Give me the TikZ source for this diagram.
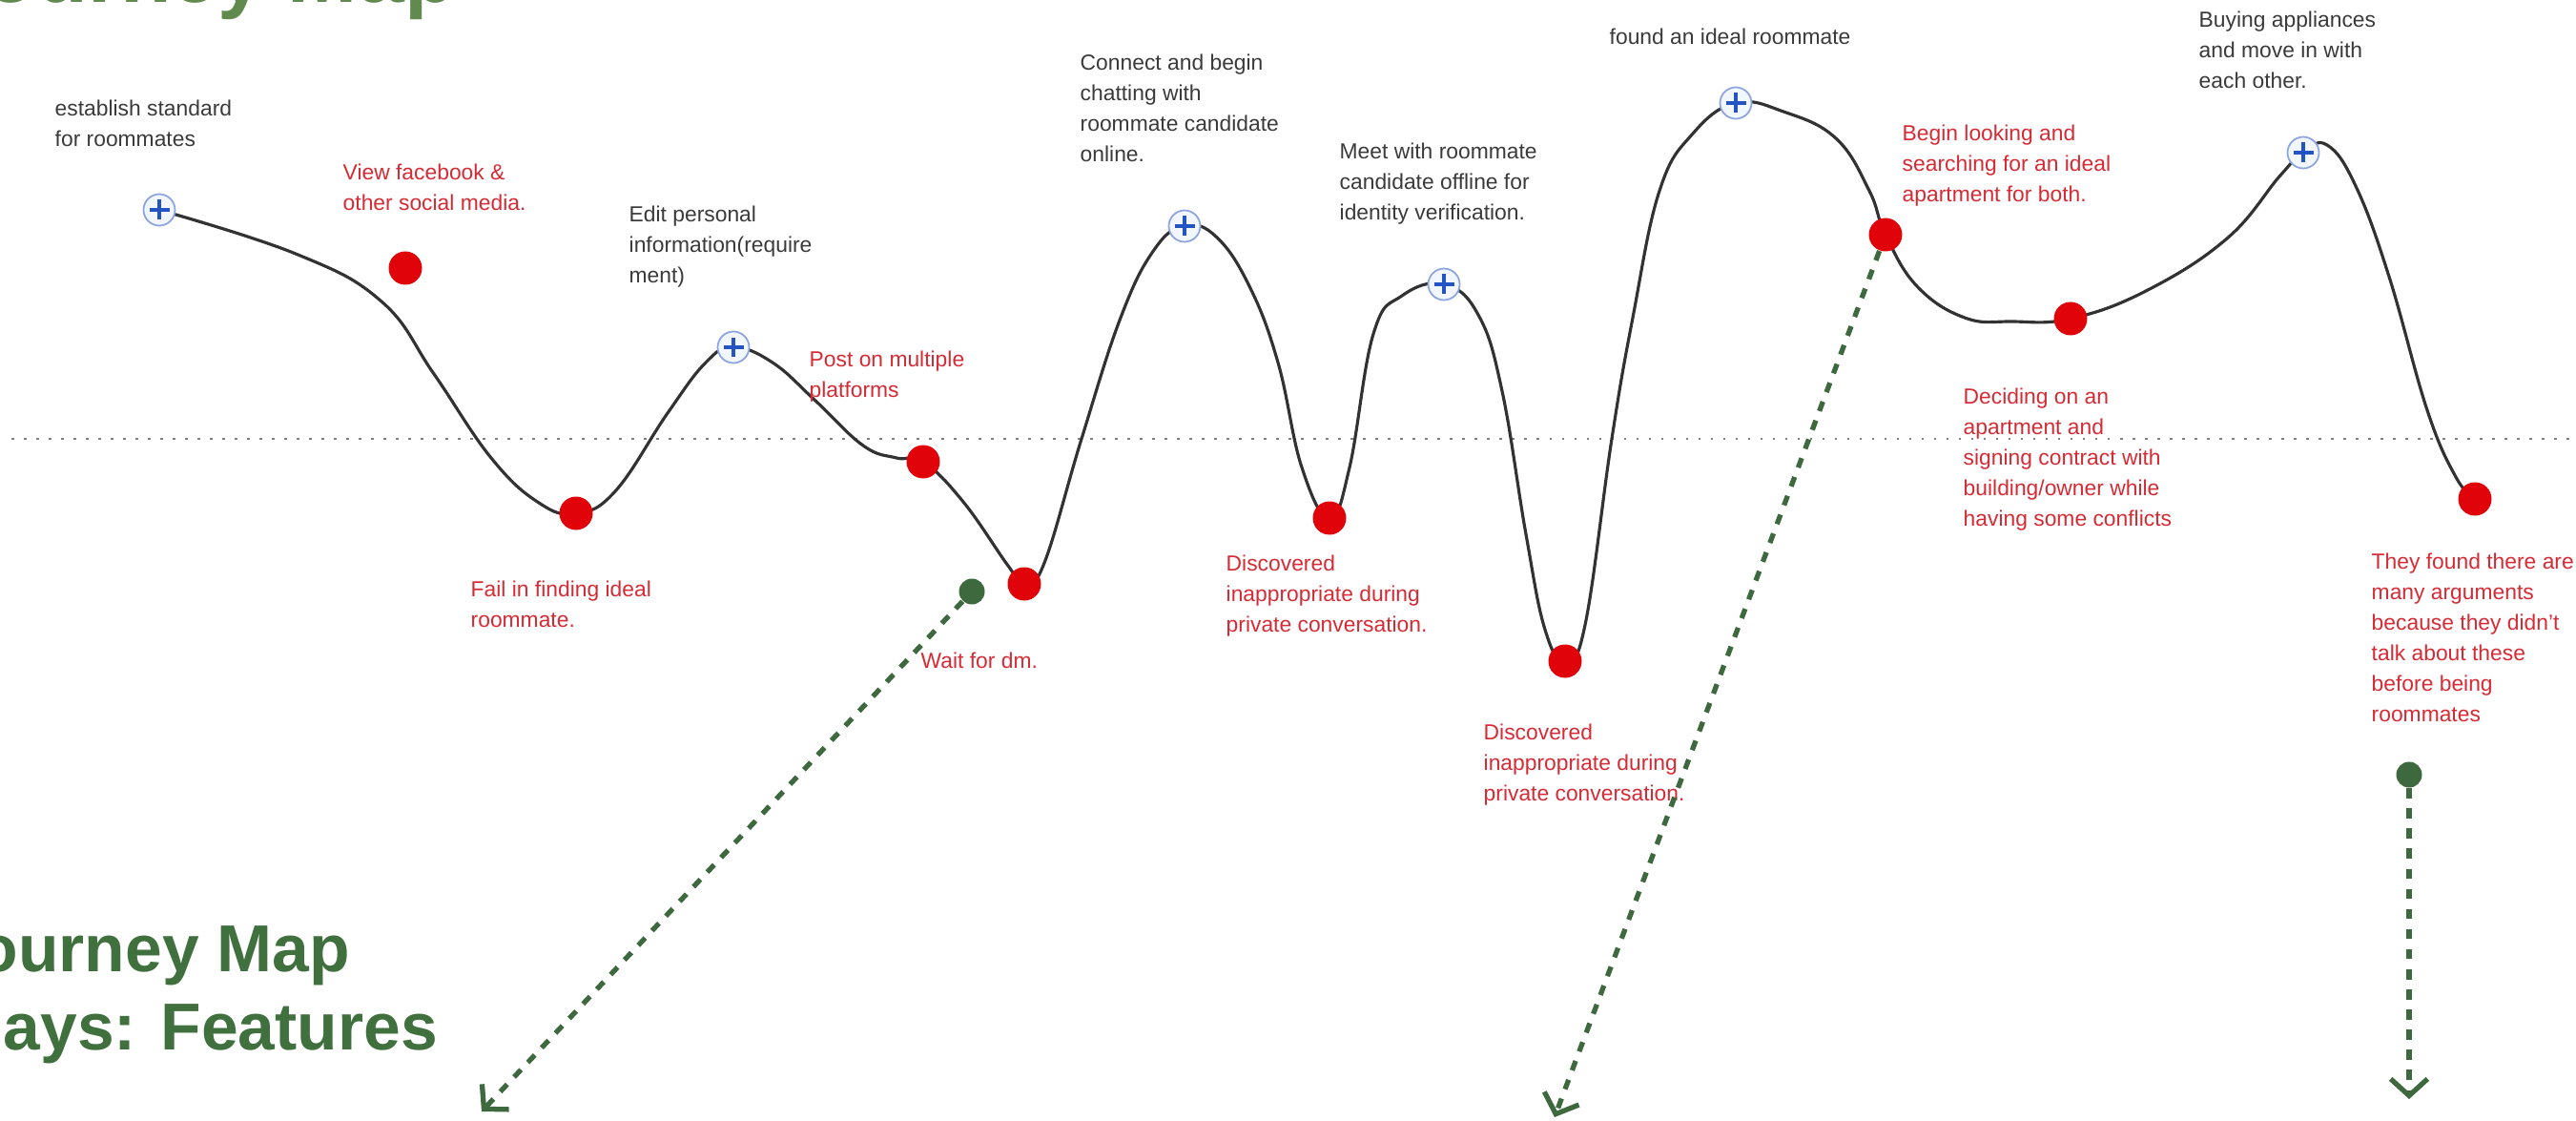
\documentclass[tikz,border=0pt]{standalone}
\usepackage{fontspec}
\setmainfont{Liberation Sans}
\usetikzlibrary{arrows.meta}
\usepackage{xcolor}
\definecolor{dotred}{RGB}{224,4,10}
\definecolor{txtred}{RGB}{214,42,52}
\definecolor{txtgrey}{RGB}{58,58,58}
\definecolor{linegrey}{RGB}{50,50,50}
\definecolor{pathgreen}{RGB}{62,104,62}
\definecolor{titlegreen}{RGB}{64,112,62}
\definecolor{fadedgreen}{RGB}{96,138,78}
\definecolor{plusblue}{RGB}{36,84,196}
\definecolor{ringblue}{RGB}{140,165,225}
\definecolor{ringfill}{RGB}{242,246,255}
\pgfdeclarelayer{bg}
\pgfsetlayers{bg,main}

\begin{document}
\begin{tikzpicture}[x=1cm,y=-1cm,
					upmark/.style={circle, draw=ringblue, fill=ringfill, line width=0.5pt, minimum size=0.33cm, inner sep=0pt,
						path picture={\draw[plusblue, line width=0.9pt]
							([xshift=-0.105cm]path picture bounding box.center) -- ([xshift=0.105cm]path picture bounding box.center)
							([yshift=-0.105cm]path picture bounding box.center) -- ([yshift=0.105cm]path picture bounding box.center);}},
					reddot/.style={circle, fill=dotred, minimum size=0.35cm, inner sep=0pt},
					greendot/.style={circle, fill=pathgreen, minimum size=0.27cm, inner sep=0pt},
					note/.style={anchor=north west, align=left, inner sep=0pt, font=\fontsize{6.5}{9.1}\selectfont, text=txtgrey},
					badnote/.style={note, text=txtred},
					journey/.style={linegrey, line width=0.9pt},
					midline/.style={gray, line width=0.8pt, dash pattern=on 0.8pt off 2.9pt},
					hint/.style={pathgreen, line width=1.5pt, dash pattern=on 3pt off 3pt, -{Straight Barb[length=5pt,width=11pt]}},
					heading/.style={anchor=base west, inner sep=0pt, text=titlegreen, font=\fontsize{19.8}{23}\bfseries\selectfont}]
    \useasboundingbox (0,0) rectangle (27.01,11.75);
    \clip (0,0) rectangle (27.01,11.75);
    % Titles
    \node [heading, text=fadedgreen, font=\fontsize{25}{25}\bfseries\selectfont] (toptitle) at (-0.16,0.03) {ourney Map};
    \node [heading] (titleA) at (-0.24,10.18) {ourney Map};
    \node [heading] (titleB) at (0.03,11.00) {ays: Features};
    % Place nodes
    \node [upmark] (std) at (1.67,2.20) {};
    \node [reddot] (fb) at (4.25,2.81) {};
    \node [reddot] (fail) at (6.04,5.38) {};
    \node [upmark] (edit) at (7.69,3.64) {};
    \node [reddot] (post) at (9.68,4.84) {};
    \node [reddot] (wait) at (10.74,6.12) {};
    \node [greendot] (dm) at (10.19,6.20) {};
    \node [upmark] (chat) at (12.42,2.37) {};
    \node [reddot] (discA) at (13.94,5.43) {};
    \node [upmark] (meet) at (15.14,2.98) {};
    \node [reddot] (discB) at (16.41,6.93) {};
    \node [upmark] (found) at (18.20,1.08) {};
    \node [reddot] (look) at (19.77,2.46) {};
    \node [reddot] (decide) at (21.71,3.34) {};
    \node [upmark] (buy) at (24.15,1.60) {};
    \node [reddot] (argue) at (25.95,5.23) {};
    \node [greendot] (move) at (25.26,8.12) {};
    % Labels
    \node [note] (stdtxt) at (0.57,1.04) {establish standard\\for roommates};
    \node [badnote] (fbtxt) at (3.59,1.71) {View facebook \&\\other social media.};
    \node [note] (edittxt) at (6.59,2.15) {Edit personal\\information(require\\ment)};
    \node [badnote] (posttxt) at (8.48,3.67) {Post on multiple\\platforms};
    \node [badnote] (failtxt) at (4.93,6.08) {Fail in finding ideal\\roommate.};
    \node [badnote] (waittxt) at (9.65,6.83) {Wait for dm.};
    \node [note] (chattxt) at (11.32,0.56) {Connect and begin\\chatting with\\roommate candidate\\online.};
    \node [note] (meettxt) at (14.04,1.49) {Meet with roommate\\candidate offline for\\identity verification.};
    \node [badnote] (disctxtA) at (12.85,5.81) {Discovered\\inappropriate during\\private conversation.};
    \node [badnote] (disctxtB) at (15.55,7.58) {Discovered\\inappropriate during\\private conversation.};
    \node [note] (foundtxt) at (16.87,0.29) {found an ideal roommate};
    \node [badnote] (looktxt) at (19.94,1.30) {Begin looking and\\searching for an ideal\\apartment for both.};
    \node [badnote] (decidetxt) at (20.58,4.06) {Deciding on an\\apartment and\\signing contract with\\building/owner while\\having some conflicts};
    \node [note] (buytxt) at (23.05,0.11) {Buying appliances\\and move in with\\each other.};
    \node [badnote] (arguetxt) at (24.86,5.79) {They found there are\\many arguments\\because they didn't\\talk about these\\before being\\roommates};
    % Draw the journey
    \begin{pgfonlayer}{bg}
    \draw [midline] (0.12,4.60) -- (27.01,4.60);
    \draw [journey] plot [smooth, tension=0.7] coordinates {(std.center) (3.10,2.66) (4.00,3.16) (4.55,3.92) (5.15,4.80) (5.65,5.27)
    	(fail.center) (6.45,5.15) (7.00,4.33) (7.40,3.80)
    	(edit.center) (8.10,3.80) (8.55,4.20) (9.05,4.67) (9.40,4.80)
    	(post.center) (10.10,5.26) (10.57,5.93)
    	(wait.center) (10.95,5.90) (11.34,4.60) (11.75,3.33) (12.10,2.62)
    	(chat.center) (12.75,2.48) (13.10,3.00) (13.40,3.80) (13.65,4.90)
    	(discA.center) (14.15,4.90) (14.40,3.50) (14.70,3.10)
    	(meet.center) (15.50,3.30) (15.75,4.10) (16.00,5.60) (16.20,6.60)
    	(discB.center) (16.62,6.55) (16.90,4.60) (17.12,3.33) (17.40,2.00) (17.75,1.40)
    	(found.center) (18.70,1.17) (19.25,1.45) (19.60,2.00)
    	(look.center) (20.10,3.00) (20.60,3.33) (21.10,3.37)
    	(decide.center) (22.50,3.05) (23.35,2.50) (23.90,1.85)
    	(buy.center) (24.40,1.52) (24.70,1.95) (25.05,2.90) (25.45,4.30) (25.75,5.00)
    	(argue.center)};
    \end{pgfonlayer}
    % Draw edges
    \coordinate (dmend) at (5.05,11.65);
    \coordinate (lookend) at (16.30,11.71);
    \coordinate (moveend) at (25.26,11.52);
    \draw [hint] (dm) -- (dmend);
    \draw [hint] (look) -- (lookend);
    \draw [hint] (move) -- (moveend);
\end{tikzpicture}
\end{document}
